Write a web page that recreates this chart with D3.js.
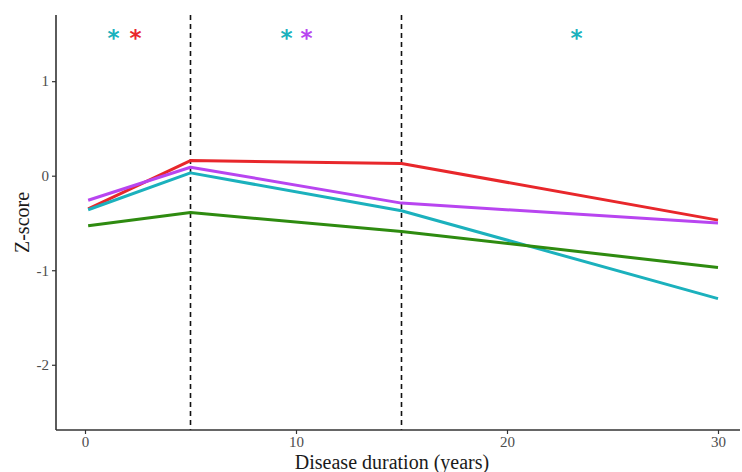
<!DOCTYPE html>
<html>
<head>
<meta charset="utf-8">
<script src="https://cdn.jsdelivr.net/npm/d3@7"></script>
<style>
  html, body { margin: 0; padding: 0; background: #fff; }
</style>
</head>
<body>
<svg id="chart" width="742" height="472"></svg>
<script>
// duration points where the z-scores were measured
const durations = [0.15, 5, 15, 30];
const seriesNames = ['red', 'purple', 'cyan', 'green'];
const redValues = [-0.35, 0.16, 0.13, -0.47];
const purpleValues = [-0.26, 0.09, -0.29, -0.50];
const cyanValues = [-0.36, 0.03, -0.37, -1.30];
const greenValues = [-0.53, -0.39, -0.59, -0.97];
const colors = ['#e8272b', '#b845f0', '#1bb1bd', '#2e8b10'];

// significance markers
const starX = [1.35, 2.4, 9.55, 10.5, 23.3];
const starY = [1.5, 1.5, 1.5, 1.5, 1.5];
const starSeries = ['cyan', 'red', 'cyan', 'purple', 'cyan'];

const cutoffs = [5, 15];
const xTicks = [0, 10, 20, 30];
const yTicks = [-2, -1, 0, 1];

const svg = d3.select('#chart');
const mLeft = 56, mRight = 740, mTop = 15, mBottom = 430;

const x = d3.scaleLinear().domain([0, 30]).range([85, 718]);
const y = d3.scaleLinear().domain([-2.69, 1.70]).range([mBottom, mTop]);

const serif = 'Liberation Serif, Times New Roman, serif';
const fmt = d => String(d); // plain hyphen minus like the original

// dashed cutoffs
cutoffs.forEach(c => {
  svg.append('line')
    .attr('x1', x(c)).attr('x2', x(c)).attr('y1', mTop).attr('y2', mBottom)
    .attr('stroke', '#111').attr('stroke-width', 1.6)
    .attr('stroke-dasharray', '5 4');
});

const allValues = [redValues, purpleValues, cyanValues, greenValues];
const line = d3.line().x(d => x(d[0])).y(d => y(d[1]));

allValues.forEach((vals, i) => {
  svg.append('path')
    .datum(durations.map((d, j) => [d, vals[j]]))
    .attr('d', line)
    .attr('fill', 'none')
    .attr('stroke', colors[i])
    .attr('stroke-width', 3)
    .attr('stroke-linejoin', 'round');
});

// stars
starX.forEach((sx, i) => {
  svg.append('text')
    .attr('x', x(sx)).attr('y', y(starY[i]) + 12)
    .attr('text-anchor', 'middle')
    .attr('font-family', 'DejaVu Sans, sans-serif')
    .attr('font-size', 23).attr('font-weight', 'bold')
    .attr('fill', colors[seriesNames.indexOf(starSeries[i])])
    .text('*');
});

// axes
const xAxis = svg.append('g')
  .attr('transform', `translate(0,${mBottom})`)
  .call(d3.axisBottom(x).tickValues(xTicks).tickSize(4).tickPadding(2).tickFormat(fmt));
xAxis.select('.domain').remove();
svg.append('line').attr('x1', mLeft).attr('x2', mRight).attr('y1', mBottom).attr('y2', mBottom)
  .attr('stroke', '#333').attr('stroke-width', 1.6);

const yAxis = svg.append('g')
  .attr('transform', `translate(${mLeft},0)`)
  .call(d3.axisLeft(y).tickValues(yTicks).tickSize(4).tickPadding(3).tickFormat(fmt));
yAxis.select('.domain').remove();
svg.append('line').attr('x1', mLeft).attr('x2', mLeft).attr('y1', mTop).attr('y2', mBottom)
  .attr('stroke', '#333').attr('stroke-width', 1.6);

[xAxis, yAxis].forEach(g => {
  g.selectAll('.tick line').attr('stroke', '#333').attr('stroke-width', 1.2);
  g.selectAll('.tick text').attr('font-family', serif).attr('font-size', 15).attr('fill', '#4d4d4d');
});

svg.append('text')
  .attr('x', (mLeft + mRight) / 2 - 6).attr('y', 469)
  .attr('text-anchor', 'middle')
  .attr('font-family', serif).attr('font-size', 20).attr('fill', '#1a1a1a')
  .text('Disease duration (years)');

svg.append('text')
  .attr('transform', `translate(29,${(mTop + mBottom) / 2}) rotate(-90)`)
  .attr('text-anchor', 'middle')
  .attr('font-family', serif).attr('font-size', 20).attr('fill', '#1a1a1a')
  .text('Z-score');
</script>
</body>
</html>
